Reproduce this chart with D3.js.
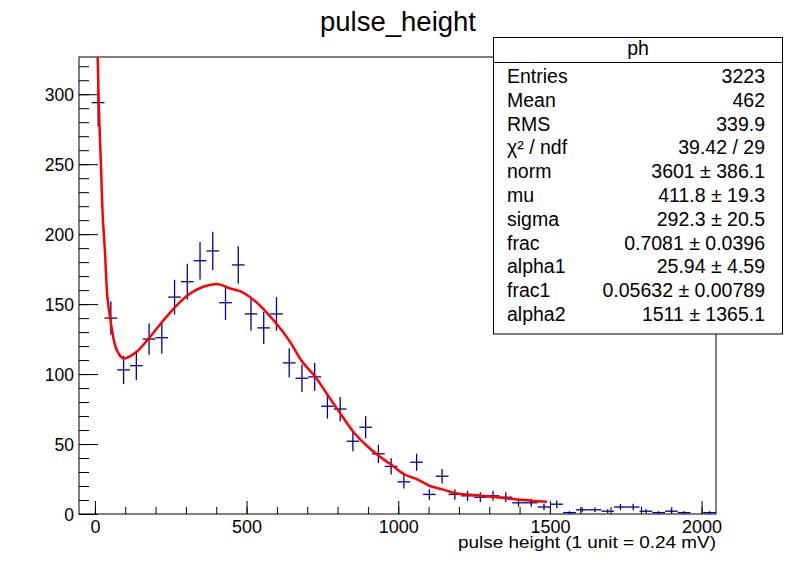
<!DOCTYPE html>
<html>
<head>
<meta charset="utf-8">
<script src="https://cdn.jsdelivr.net/npm/d3@7"></script>
<style>
  body { margin: 0; background: #fff; }
  svg { display: block; }
</style>
</head>
<body>
<div id="chart"></div>
<script>
// histogram "ph": bin centres and contents (bin width 42)
const binCenters = [10.5, 52.5, 94.5, 136.5, 178.5, 220.5, 262.5, 304.5, 346.5, 388.5,
  430.5, 472.5, 514.5, 556.5, 598.5, 640.5, 682.5, 724.5, 766.5, 808.5,
  850.5, 892.5, 934.5, 976.5, 1018.5, 1060.5, 1102.5, 1144.5, 1186.5, 1228.5,
  1270.5, 1312.5, 1354.5, 1396.5, 1438.5, 1480.5, 1522.5, 1564.5, 1606.5, 1648.5,
  1690.5, 1732.5, 1774.5, 1816.5, 1858.5, 1900.5, 1942.5, 1984.5, 2026.5];
const counts = [294, 140, 103, 106, 125, 126, 155, 166, 181, 188,
  151, 178, 143, 133, 143, 108, 97, 98, 77, 75,
  52, 62, 43, 34, 23, 37, 14, 27, 14, 13,
  12, 13, 12, 8, 8, 5, 7, 1, 3, 3,
  2, 5, 5, 2, 1, 2, 1, 0, 1];
const binWidth = 42;

// fitted function
const fitX = [9, 12.5, 15.8, 19.1, 24.4, 33.3, 38.9, 49.8, 66.2, 80, 95.9, 115, 137.8,
  181.6, 222.1, 265, 305.9, 357.3, 401.4, 445.3, 483.8, 516.8, 588, 643, 683.6,
  726.4, 767.3, 808.8, 851.7, 893.5, 935.4, 978.2, 1019.8, 1062.6, 1104.5, 1146.3,
  1189.2, 1272.6, 1356, 1439.7, 1490];
const fitY = [326.4, 294, 273, 254, 219.5, 186.4, 161.4, 140.9, 120.7, 114, 111.2, 112.6, 115.9,
  126.6, 137.4, 148.1, 156.4, 162.4, 164.3, 161.2, 158.8, 154.1, 138.6, 123.1, 108.8,
  98.1, 85, 71.9, 58.8, 49.3, 41.6, 35, 28.4, 24.8, 20, 17.6,
  14.8, 13.1, 11.2, 9.5, 8.8];

const xTicks = [0, 500, 1000, 1500, 2000];
const yTicks = [0, 50, 100, 150, 200, 250, 300];

// stats box
const statNames = ["Entries", "Mean", "RMS", "χ² / ndf", "norm", "mu", "sigma", "frac", "alpha1", "frac1", "alpha2"];
const statValues = ["3223", "462", "339.9", "39.42 / 29", "3601 ± 386.1", "411.8 ± 19.3", "292.3 ± 20.5",
  "0.7081 ± 0.0396", "25.94 ± 4.59", "0.05632 ± 0.00789", "1511 ± 1365.1"];

const W = 796, H = 572;
const frame = { left: 79, right: 716, top: 57, bottom: 514 };
const font = "'Liberation Sans', Arial, Helvetica, sans-serif";

const svg = d3.select("#chart").append("svg")
    .attr("width", W)
    .attr("height", H)
    .style("font-family", font);

const x = d3.scaleLinear().domain([-52.5, 2047.5]).range([frame.left, frame.right]);
const y = d3.scaleLinear().domain([0, 326.6]).range([frame.bottom, frame.top]);

// title
svg.append("text")
    .attr("x", W / 2)
    .attr("y", 31)
    .attr("text-anchor", "middle")
    .style("font-size", "27.5px")
    .text("pulse_height");

// clip for the data
svg.append("clipPath").attr("id", "clip")
  .append("rect")
    .attr("x", frame.left).attr("y", frame.top)
    .attr("width", frame.right - frame.left)
    .attr("height", frame.bottom - frame.top);

// minor ticks
svg.append("g")
    .attr("transform", `translate(${frame.left},0)`)
    .call(d3.axisLeft(y).tickValues(d3.range(0, 327, 10)).tickSize(-10).tickFormat(""))
    .call(g => g.select(".domain").remove());
svg.append("g")
    .attr("transform", `translate(0,${frame.bottom})`)
    .call(d3.axisBottom(x).tickValues(d3.range(0, 2047, 100)).tickSize(-7).tickFormat(""))
    .call(g => g.select(".domain").remove());

// major ticks + labels
const yAxis = svg.append("g")
    .attr("transform", `translate(${frame.left},0)`)
    .call(d3.axisLeft(y).tickValues(yTicks).tickSize(-19).tickPadding(5));
yAxis.select(".domain").remove();
yAxis.selectAll("text").style("font-size", "17.5px").style("font-family", font).attr("dy", "0.36em");

const xAxis = svg.append("g")
    .attr("transform", `translate(0,${frame.bottom})`)
    .call(d3.axisBottom(x).tickValues(xTicks).tickSize(-13).tickPadding(6.5).tickFormat(d3.format("d")));
xAxis.select(".domain").remove();
xAxis.selectAll("text").style("font-size", "18px").style("font-family", font).attr("dy", "0.71em");

svg.selectAll(".tick line").attr("stroke", "#000");

// frame
svg.append("rect")
    .attr("x", frame.left).attr("y", frame.top)
    .attr("width", frame.right - frame.left)
    .attr("height", frame.bottom - frame.top)
    .attr("fill", "none")
    .attr("stroke", "#000");

// x axis title
svg.append("text")
    .attr("x", frame.right)
    .attr("y", 548)
    .attr("text-anchor", "end")
    .attr("textLength", 258)
    .attr("lengthAdjust", "spacingAndGlyphs")
    .style("font-size", "17px")
    .text("pulse height (1 unit = 0.24 mV)");

// histogram points with error bars
const bins = binCenters.map((c, i) => ({ c, n: counts[i] })).filter(d => d.n > 0);
const pts = svg.append("g").attr("clip-path", "url(#clip)")
    .attr("stroke", "#000090").attr("stroke-width", 1.3);
pts.selectAll(".eh").data(bins).enter().append("line")
    .attr("x1", d => x(d.c - binWidth / 2)).attr("x2", d => x(d.c + binWidth / 2))
    .attr("y1", d => y(d.n)).attr("y2", d => y(d.n));
pts.selectAll(".ev").data(bins).enter().append("line")
    .attr("x1", d => x(d.c)).attr("x2", d => x(d.c))
    .attr("y1", d => y(d.n - Math.sqrt(d.n))).attr("y2", d => y(d.n + Math.sqrt(d.n)));

// fit curve
const line = d3.line()
    .x((d, i) => x(fitX[i]))
    .y(d => y(d))
    .curve(d3.curveMonotoneX);
svg.append("path")
    .attr("clip-path", "url(#clip)")
    .attr("d", line(fitY))
    .attr("fill", "none")
    .attr("stroke", "#ff0000")
    .attr("stroke-width", 2.5);

// stats box
const box = { left: 493.5, right: 782.5, top: 37.5, bottom: 334, head: 62.5 };
svg.append("rect")
    .attr("x", box.left).attr("y", box.top)
    .attr("width", box.right - box.left)
    .attr("height", box.bottom - box.top)
    .attr("fill", "#fff").attr("stroke", "#000");
svg.append("line")
    .attr("x1", box.left).attr("x2", box.right)
    .attr("y1", box.head).attr("y2", box.head)
    .attr("stroke", "#000");
svg.append("text")
    .attr("x", (box.left + box.right) / 2)
    .attr("y", 55)
    .attr("text-anchor", "middle")
    .style("font-size", "19.5px")
    .text("ph");

const rowY = d3.scalePoint().domain(statNames).range([83, 321]);
const rows = svg.append("g").style("font-size", "19.5px");
rows.selectAll(".name").data(statNames).enter().append("text")
    .attr("x", 507).attr("y", d => rowY(d))
    .text(d => d);
rows.selectAll(".val").data(statValues).enter().append("text")
    .attr("x", 765).attr("y", (d, i) => rowY(statNames[i]))
    .attr("text-anchor", "end")
    .text(d => d);
</script>
</body>
</html>
